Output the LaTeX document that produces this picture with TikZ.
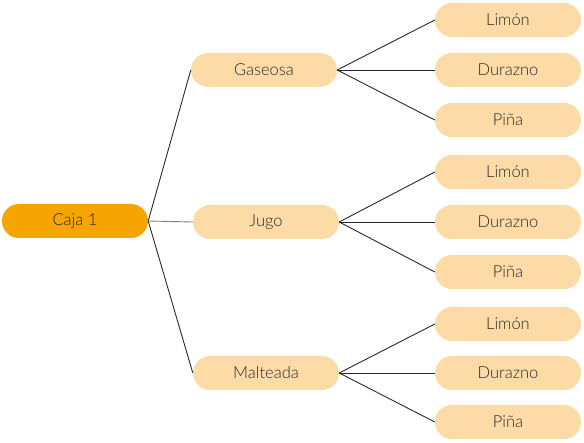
\documentclass[tikz,border=0pt]{standalone}
\usepackage{fontspec}
\setmainfont{Lato}[UprightFont=* Light]
\newlength{\du}
\setlength{\du}{1pt}
\definecolor{rootcolor}{RGB}{245,164,0}
\definecolor{itemcolor}{RGB}{253,219,166}
\definecolor{linecolor}{RGB}{40,40,40}
\tikzset{
  box/.style={rectangle, rounded corners=17\du, minimum width=146\du,
    minimum height=34\du, inner sep=0pt, font=\fontsize{16.5}{18}\selectfont,
    text=linecolor},
  rootbox/.style={box, fill=rootcolor},
  itembox/.style={box, fill=itemcolor},
  link/.style={draw=linecolor, line width=0.9\du},
}

\begin{document}
\begin{tikzpicture}
\pgftransformyscale{-1.000000}
\useasboundingbox (0\du,0\du) rectangle (584\du,443\du);
% root
\node[rootbox] (caja) at (75\du,221\du){Caja 1};
% second level
\node[itembox] (gaseosa) at (264\du,70\du){Gaseosa};
\node[itembox] (jugo) at (266\du,222\du){Jugo};
\node[itembox] (malteada) at (266\du,373\du){Malteada};
% leaves
\node[itembox] (limonA) at (508\du,20\du){Limón};
\node[itembox] (duraznoA) at (508\du,70\du){Durazno};
\node[itembox] (pinaA) at (508\du,120\du){Piña};
\node[itembox] (limonB) at (508\du,172\du){Limón};
\node[itembox] (duraznoB) at (508\du,222\du){Durazno};
\node[itembox] (pinaB) at (508\du,272\du){Piña};
\node[itembox] (limonC) at (508\du,324\du){Limón};
\node[itembox] (duraznoC) at (508\du,373\du){Durazno};
\node[itembox] (pinaC) at (508\du,422\du){Piña};
% connectors
\draw[link] (caja.east) -- (gaseosa.west);
\draw[link, draw=gray] (caja.east) -- (jugo.west);
\draw[link] (caja.east) -- (malteada.west);
\draw[link] (gaseosa.east) -- (limonA.west);
\draw[link] (gaseosa.east) -- (duraznoA.west);
\draw[link] (gaseosa.east) -- (pinaA.west);
\draw[link] (jugo.east) -- (limonB.west);
\draw[link] (jugo.east) -- (duraznoB.west);
\draw[link] (jugo.east) -- (pinaB.west);
\draw[link] (malteada.east) -- (limonC.west);
\draw[link] (malteada.east) -- (duraznoC.west);
\draw[link] (malteada.east) -- (pinaC.west);
\end{tikzpicture}
\end{document}
